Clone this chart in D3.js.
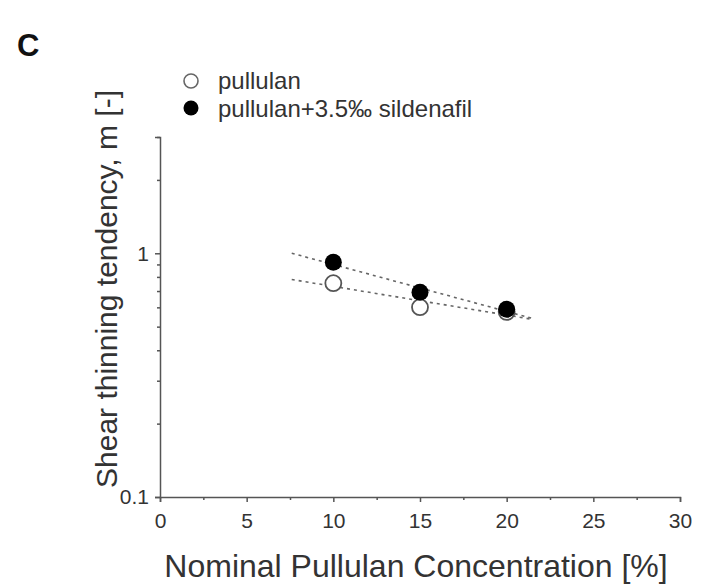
<!DOCTYPE html>
<html>
<head>
<meta charset="utf-8">
<script src="https://cdn.jsdelivr.net/npm/d3@7"></script>
<style>
  html, body { margin: 0; padding: 0; background: #fff; }
  svg { display: block; }
  text { font-family: Arial, "Liberation Sans", Helvetica, sans-serif; fill: #333; }
</style>
</head>
<body>
<svg id="chart" width="701" height="586"></svg>
<script>
// ---- data ----
const concentrations = [10, 15, 20];
const pullulan = [0.754, 0.601, 0.575];
const pullulanSildenafil = [0.918, 0.692, 0.589];
const seriesNames = ["pullulan", "pullulan+3.5‰ sildenafil"];
const xTicks = [0, 5, 10, 15, 20, 25, 30];
const xMinorTicks = [2.5, 7.5, 12.5, 17.5, 22.5, 27.5];
const yTickLabels = [0.1, 1];
const yMinorTicks = [0.2, 0.3, 0.4, 0.5, 0.6, 0.7, 0.8, 0.9, 2, 3];
const fitRange = [7.6, 21.5];

// ---- layout ----
const svg = d3.select("#chart");
const margin = { left: 160, right: 21, top: 137, bottom: 89 };
const W = 701, H = 586;
const x = d3.scaleLinear().domain([0, 30]).range([margin.left, W - margin.right]);
const y = d3.scaleLog().domain([0.1, 3]).range([H - margin.bottom, margin.top]);
const axisColor = "#555";

// panel letter
svg.append("text").attr("x", 17).attr("y", 56)
  .attr("font-size", 31).attr("font-weight", "bold").style("fill", "#111").text("C");

// x axis
const gx = svg.append("g").attr("transform", `translate(0,${y(0.1)})`);
gx.call(d3.axisBottom(x).tickValues(xTicks).tickSize(5).tickPadding(11).tickFormat(d3.format("d")));
gx.append("g").call(d3.axisBottom(x).tickValues(xMinorTicks).tickSize(3).tickFormat(""))
  .select(".domain").remove();
gx.selectAll("text").attr("font-size", 21).style("fill", "#333");

// y axis
const gy = svg.append("g").attr("transform", `translate(${x(0)},0)`);
gy.call(d3.axisLeft(y).tickValues(yTickLabels).tickSize(5).tickPadding(6).tickFormat(d3.format("")));
gy.append("g").call(d3.axisLeft(y).tickValues(yMinorTicks).tickSize(3).tickFormat(""))
  .select(".domain").remove();
gy.selectAll("text").attr("font-size", 21).style("fill", "#333");

svg.selectAll(".domain, .tick line").attr("stroke", axisColor).attr("stroke-width", 1.5);

// axis titles
svg.append("text").attr("x", 416).attr("y", 577)
  .attr("text-anchor", "middle").attr("font-size", 32).text("Nominal Pullulan Concentration [%]");
svg.append("text").attr("transform", `translate(117,289) rotate(-90)`)
  .attr("text-anchor", "middle").attr("font-size", 30).text("Shear thinning tendency, m [-]");

// fits (log-linear least squares)
function fit(xs, ys) {
  const ly = ys.map(Math.log10);
  const mx = d3.mean(xs), my = d3.mean(ly);
  const b = d3.sum(xs.map((v, i) => (v - mx) * (ly[i] - my))) / d3.sum(xs.map(v => (v - mx) ** 2));
  return t => Math.pow(10, my + b * (t - mx));
}
const line = d3.line().x(d => x(d[0])).y(d => y(d[1]));
[pullulan, pullulanSildenafil].forEach(vals => {
  const f = fit(concentrations, vals);
  svg.append("path")
    .attr("d", line(fitRange.map(t => [t, f(t)])))
    .attr("fill", "none").attr("stroke", "#666").attr("stroke-width", 1.6)
    .attr("stroke-dasharray", "3,4");
});

// points
svg.append("g").selectAll("circle").data(concentrations).join("circle")
  .attr("cx", d => x(d)).attr("cy", (d, i) => y(pullulan[i])).attr("r", 8)
  .attr("fill", "#fff").attr("stroke", "#555").attr("stroke-width", 1.8);
svg.append("g").selectAll("circle").data(concentrations).join("circle")
  .attr("cx", d => x(d)).attr("cy", (d, i) => y(pullulanSildenafil[i])).attr("r", 8.5)
  .attr("fill", "#000");

// legend
const leg = svg.append("g");
leg.append("circle").attr("cx", 191).attr("cy", 81).attr("r", 7)
  .attr("fill", "#fff").attr("stroke", "#666").attr("stroke-width", 1.6);
leg.append("circle").attr("cx", 191).attr("cy", 108).attr("r", 7.5).attr("fill", "#000");
leg.selectAll("text").data(seriesNames).join("text")
  .attr("x", 218).attr("y", (d, i) => 89 + i * 28)
  .attr("font-size", 24).text(d => d);
</script>
</body>
</html>
